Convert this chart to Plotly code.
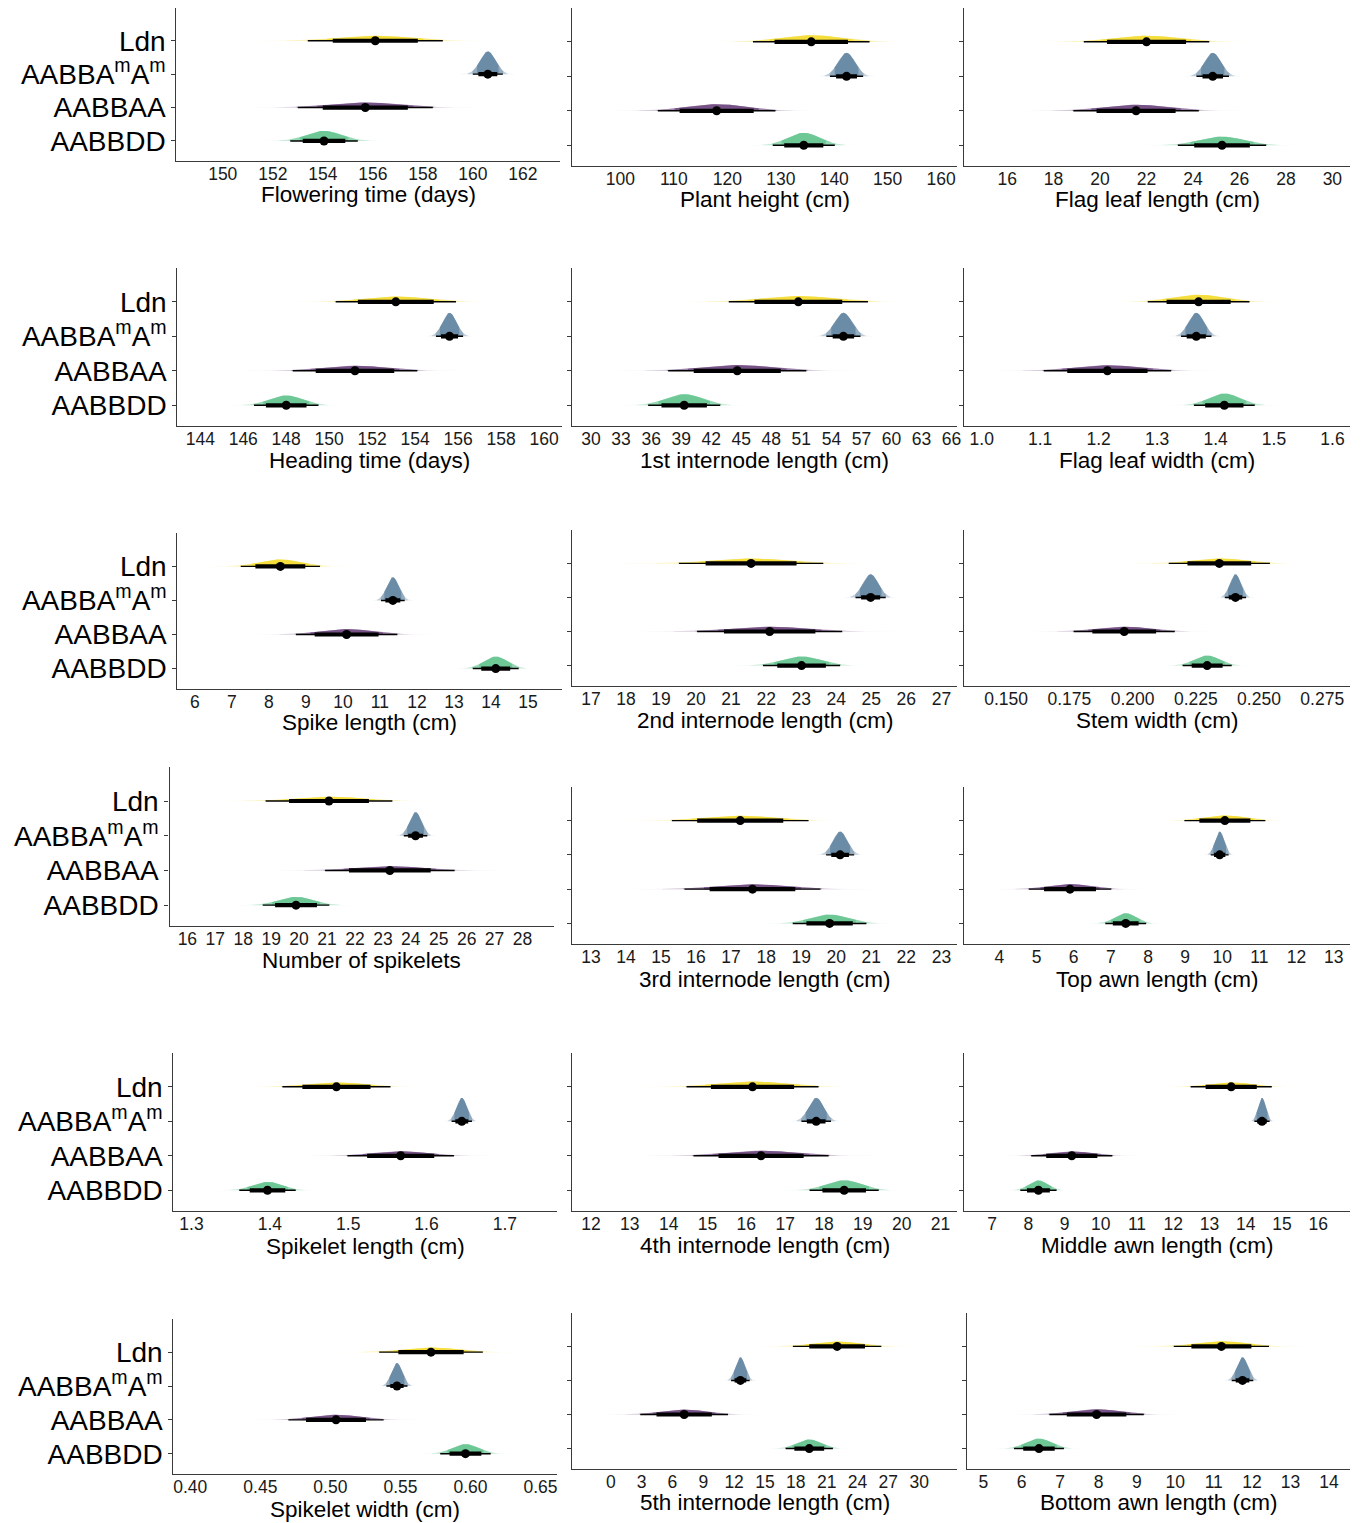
import numpy as np
import plotly.graph_objects as go

W, H = 1365, 1523
FONT = "Liberation Sans, Arial, sans-serif"

group_labels = ["Ldn", "AABBA<sup>m</sup>A<sup>m</sup>", "AABBAA", "AABBDD"]
group_y = [3, 2, 1, 0]
group_colors = [(243, 216, 23), (80, 118, 151), (94, 50, 112), (82, 190, 130)]

# ---- data: posterior means and 95% half-widths (order: Ldn, AABBAmAm, AABBAA, AABBDD)
flowering_mean = [156.1, 160.6, 155.7, 154.05]
flowering_ci = [2.7, 0.6, 2.7, 1.35]
flowering_ticks = [150, 152, 154, 156, 158, 160, 162]

height_mean = [135.7, 142.3, 118.0, 134.3]
height_ci = [10.9, 3.1, 11.0, 5.8]
height_ticks = [100, 110, 120, 130, 140, 150, 160]

flagleaf_len_mean = [22.0, 24.85, 21.55, 25.25]
flagleaf_len_ci = [2.7, 0.7, 2.7, 1.9]
flagleaf_len_ticks = [16, 18, 20, 22, 24, 26, 28, 30]

heading_mean = [153.1, 155.6, 151.2, 148.0]
heading_ci = [2.8, 0.63, 2.9, 1.5]
heading_ticks = [144, 146, 148, 150, 152, 154, 156, 158, 160]

int1_mean = [50.7, 55.2, 44.6, 39.3]
int1_ci = [6.95, 1.7, 6.9, 3.6]
int1_ticks = [30, 33, 36, 39, 42, 45, 48, 51, 54, 57, 60, 63, 66]

flagleaf_wid_mean = [1.371, 1.367, 1.215, 1.415]
flagleaf_wid_ci = [0.087, 0.026, 0.109, 0.052]
flagleaf_wid_ticks = [1.0, 1.1, 1.2, 1.3, 1.4, 1.5, 1.6]

spike_mean = [8.31, 11.35, 10.1, 14.13]
spike_ci = [1.07, 0.32, 1.37, 0.62]
spike_ticks = [6, 7, 8, 9, 10, 11, 12, 13, 14, 15]

int2_mean = [21.57, 24.98, 22.1, 23.01]
int2_ci = [2.06, 0.43, 2.07, 1.1]
int2_ticks = [17, 18, 19, 20, 21, 22, 23, 24, 25, 26, 27]

stem_mean = [0.2343, 0.2407, 0.1967, 0.2295]
stem_ci = [0.020, 0.0042, 0.020, 0.0097]
stem_ticks = [0.150, 0.175, 0.200, 0.225, 0.250, 0.275]

spikelets_mean = [21.07, 24.17, 23.25, 19.89]
spikelets_ci = [2.27, 0.42, 2.32, 1.19]
spikelets_ticks = [16, 17, 18, 19, 20, 21, 22, 23, 24, 25, 26, 27, 28]

int3_mean = [17.26, 20.11, 17.61, 19.81]
int3_ci = [1.95, 0.4, 1.94, 1.05]
int3_ticks = [13, 14, 15, 16, 17, 18, 19, 20, 21, 22, 23]

topawn_mean = [10.07, 9.93, 5.9, 7.4]
topawn_ci = [1.09, 0.24, 1.11, 0.55]
topawn_ticks = [4, 5, 6, 7, 8, 9, 10, 11, 12, 13]

spikelet_len_mean = [1.485, 1.645, 1.567, 1.397]
spikelet_len_ci = [0.069, 0.013, 0.068, 0.036]
spikelet_len_ticks = [1.3, 1.4, 1.5, 1.6, 1.7]

int4_mean = [16.16, 17.8, 16.38, 18.52]
int4_ci = [1.7, 0.38, 1.74, 0.89]
int4_ticks = [12, 13, 14, 15, 16, 17, 18, 19, 20, 21]

midawn_mean = [13.6, 14.45, 9.2, 8.28]
midawn_ci = [1.12, 0.21, 1.12, 0.5]
midawn_ticks = [7, 8, 9, 10, 11, 12, 13, 14, 15, 16]

spikelet_wid_mean = [0.5718, 0.5475, 0.504, 0.5964]
spikelet_wid_ci = [0.037, 0.0075, 0.034, 0.018]
spikelet_wid_ticks = [0.40, 0.45, 0.50, 0.55, 0.60, 0.65]

int5_mean = [22.02, 12.61, 7.14, 19.31]
int5_ci = [4.3, 0.9, 4.27, 2.3]
int5_ticks = [0, 3, 6, 9, 12, 15, 18, 21, 24, 27, 30]

botawn_mean = [11.2, 11.75, 7.95, 6.45]
botawn_ci = [1.24, 0.28, 1.23, 0.65]
botawn_ticks = [5, 6, 7, 8, 9, 10, 11, 12, 13, 14]

# ---- panel layout (pixel boxes: x0, x1, ytop, ybottom, title y)
panels = [
    ("Flowering time (days)", flowering_mean, flowering_ci, [148.15, 163.5], flowering_ticks, "{:g}", (177, 562, 8, 161, 195), 1),
    ("Plant height (cm)", height_mean, height_ci, [91.0, 163.0], height_ticks, "{:g}", (574, 960, 8, 166, 200), 2),
    ("Flag leaf length (cm)", flagleaf_len_mean, flagleaf_len_ci, [14.15, 30.76], flagleaf_len_ticks, "{:g}", (967, 1354, 8, 166, 200), 3),
    ("Heading time (days)", heading_mean, heading_ci, [142.94, 160.85], heading_ticks, "{:g}", (178, 564, 268, 426, 461), 1),
    ("1st internode length (cm)", int1_mean, int1_ci, [28.13, 66.56], int1_ticks, "{:g}", (574, 960, 268, 426, 460), 2),
    ("Flag leaf width (cm)", flagleaf_wid_mean, flagleaf_wid_ci, [0.97, 1.63], flagleaf_wid_ticks, "{:.1f}", (967, 1354, 268, 426, 460), 3),
    ("Spike length (cm)", spike_mean, spike_ci, [5.53, 15.93], spike_ticks, "{:g}", (178, 564, 533, 689, 722), 1),
    ("2nd internode length (cm)", int2_mean, int2_ci, [16.47, 27.45], int2_ticks, "{:g}", (574, 960, 530, 686, 720), 2),
    ("Stem width (cm)", stem_mean, stem_ci, [0.1334, 0.286], stem_ticks, "{:.3f}", (967, 1354, 530, 686, 720), 3),
    ("Number of spikelets", spikelets_mean, spikelets_ci, [15.36, 29.14], spikelets_ticks, "{:g}", (170, 556, 767, 926, 960), 1),
    ("3rd internode length (cm)", int3_mean, int3_ci, [12.47, 23.45], int3_ticks, "{:g}", (574, 960, 787, 944, 979), 2),
    ("Top awn length (cm)", topawn_mean, topawn_ci, [3.05, 13.44], topawn_ticks, "{:g}", (967, 1354, 787, 944, 979), 3),
    ("Spikelet length (cm)", spikelet_len_mean, spikelet_len_ci, [1.277, 1.767], spikelet_len_ticks, "{:.1f}", (174, 559, 1053, 1211, 1246), 1),
    ("4th internode length (cm)", int4_mean, int4_ci, [11.52, 21.43], int4_ticks, "{:g}", (574, 960, 1053, 1211, 1245), 2),
    ("Middle awn length (cm)", midawn_mean, midawn_ci, [6.23, 16.88], midawn_ticks, "{:g}", (967, 1354, 1053, 1211, 1245), 3),
    ("Spikelet width (cm)", spikelet_wid_mean, spikelet_wid_ci, [0.388, 0.662], spikelet_wid_ticks, "{:.2f}", (174, 559, 1319, 1474, 1509), 1),
    ("5th internode length (cm)", int5_mean, int5_ci, [-3.74, 33.7], int5_ticks, "{:g}", (574, 960, 1313, 1469, 1502), 2),
    ("Bottom awn length (cm)", botawn_mean, botawn_ci, [4.58, 14.55], botawn_ticks, "{:g}", (970, 1354, 1313, 1469, 1502), 3),
]

PEAK = 0.68          # height of the narrowest slab (category units)
Z_LAYERS = [3.5, 2.6, 2.0, 1.4]
ALPHAS = [0.12, 0.25, 0.40, 0.60]
THICK = 0.63         # thick interval as fraction of 95% half-width

fig = go.Figure()
annotations = []
layout_axes = {}

for i, (title, means, cis, xr, ticks, fmt, box, col) in enumerate(panels, start=1):
    xa = "x" if i == 1 else f"x{i}"
    ya = "y" if i == 1 else f"y{i}"
    sds = [c / 1.96 for c in cis]
    sd_min = min(sds)
    for m, sd, base, (r, g, b) in zip(means, sds, group_y, group_colors):
        peak = PEAK * sd_min / sd
        for zl, a in zip(Z_LAYERS, ALPHAS):
            xs = np.linspace(m - zl * sd, m + zl * sd, 90)
            ys = base + peak * np.exp(-0.5 * ((xs - m) / sd) ** 2)
            px = np.concatenate([xs, xs[::-1]])
            py = np.concatenate([ys, np.full_like(xs, base)])
            fig.add_trace(go.Scatter(x=px, y=py, xaxis=xa, yaxis=ya, mode="lines",
                                     fill="toself", fillcolor=f"rgba({r},{g},{b},{a})",
                                     line=dict(width=0), hoverinfo="skip", showlegend=False))
    tx, ty, kx, ky = [], [], [], []
    for m, c, base in zip(means, cis, group_y):
        tx += [m - c, m + c, None]
        ty += [base, base, None]
        kx += [m - THICK * c, m + THICK * c, None]
        ky += [base, base, None]
    fig.add_trace(go.Scatter(x=tx, y=ty, xaxis=xa, yaxis=ya, mode="lines",
                             line=dict(color="black", width=1.4), hoverinfo="skip", showlegend=False))
    fig.add_trace(go.Scatter(x=kx, y=ky, xaxis=xa, yaxis=ya, mode="lines",
                             line=dict(color="black", width=4.2), hoverinfo="skip", showlegend=False))
    fig.add_trace(go.Scatter(x=means, y=group_y, xaxis=xa, yaxis=ya, mode="markers",
                             marker=dict(color="black", size=9), hoverinfo="skip", showlegend=False))

    x0, x1, yt, yb, tyy = box
    xname = "xaxis" if i == 1 else f"xaxis{i}"
    yname = "yaxis" if i == 1 else f"yaxis{i}"
    layout_axes[xname] = dict(
        domain=[x0 / W, x1 / W], anchor=ya, range=xr,
        tickvals=ticks, ticktext=[fmt.format(t) for t in ticks],
        showline=True, linecolor="#3a3a3a", linewidth=1.4, ticks="",
        ticklabelstandoff=-3,
        showgrid=False, zeroline=False,
        tickfont=dict(family=FONT, size=17.5, color="#1a1a1a"),
    )
    ydict = dict(
        domain=[1 - yb / H, 1 - yt / H], anchor=xa, range=[-0.6, 3.98],
        tickvals=group_y, showticklabels=(col == 1),
        showline=True, linecolor="#3a3a3a", linewidth=1.4,
        ticks="outside", ticklen=4, tickcolor="#3a3a3a", tickwidth=1.2,
        showgrid=False, zeroline=False,
        tickfont=dict(family=FONT, size=28, color="black"),
    )
    if col == 1:
        ydict["ticktext"] = group_labels
    layout_axes[yname] = ydict
    annotations.append(dict(text=title, x=(x0 + x1) / 2 / W, y=1 - tyy / H,
                            xref="paper", yref="paper", xanchor="center", yanchor="middle",
                            showarrow=False, font=dict(family=FONT, size=22.5, color="black")))

fig.update_layout(
    width=W, height=H, margin=dict(l=0, r=0, t=0, b=0),
    paper_bgcolor="white", plot_bgcolor="white", showlegend=False,
    annotations=annotations, **layout_axes,
)

fig.write_html("out.html", config={"displayModeBar": False},
               post_script="document.body.style.margin='0px';")
